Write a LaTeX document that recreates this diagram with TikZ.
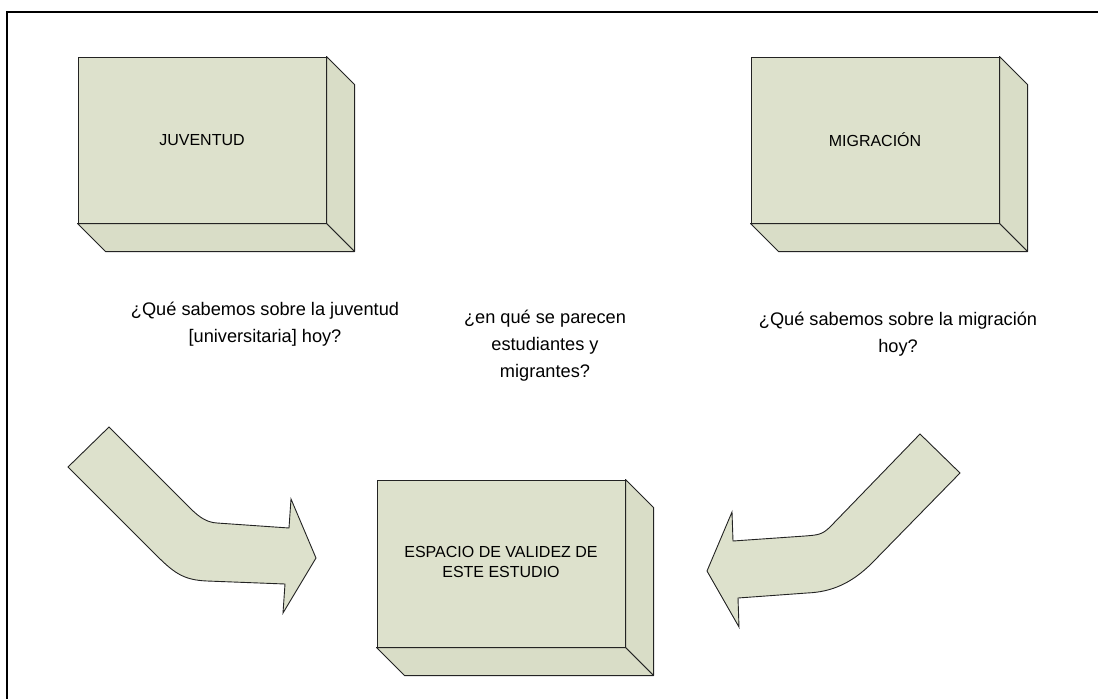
\documentclass[tikz,border=0pt]{standalone}
\usepackage{fontspec}
\setmainfont{Liberation Sans}
\definecolor{boxfill}{RGB}{221,225,204}
\definecolor{sidefill}{RGB}{217,221,199}
\definecolor{edge}{RGB}{35,35,35}
\tikzset{
  front/.style={draw=edge, fill=boxfill, line width=1pt, rectangle, minimum width=248pt, minimum height=166pt, inner sep=0pt, align=center, font=\fontsize{16}{20}\selectfont},
  face/.style={draw=edge, fill=sidefill, line width=1pt, line join=round},
  bigarrow/.style={draw=edge, fill=boxfill, line width=0.9pt, line join=miter},
  question/.style={align=center, font=\fontsize{18.2}{27}\selectfont, inner sep=0pt},
  frameline/.style={draw=black, line width=2pt}
}
\newcommand{\boxdepth}[1]{%
  \draw[face] (#1.north east) -- ++(28,28) -- ($(#1.south east)+(28,28)$) -- (#1.south east) -- cycle;
  \draw[face] (#1.south west) -- ++(28,28) -- ($(#1.south east)+(28,28)$) -- (#1.south east) -- cycle;
}
\usetikzlibrary{calc}
\begin{document}
\begin{tikzpicture}[x=1pt,y=-1pt]
\useasboundingbox (0,0) rectangle (1098,699);
% frame
\draw[frameline] (1098,12) -- (7,12) -- (7,699);

% boxes
\node[front] (juv) at (202,140) {JUVENTUD};
\node[front] (mig) at (875,140) {MIGRACIÓN};
\node[front, minimum height=167pt] (esp) at (501,563.5) {};
\boxdepth{juv}
\boxdepth{mig}
\boxdepth{esp}
\node[align=center, font=\fontsize{16}{20}\selectfont] (esplabel) at (501,562) {ESPACIO DE VALIDEZ DE\\ESTE ESTUDIO};

% questions
\node[question] (q1) at (265,324) {¿Qué sabemos sobre la juventud\\{}[universitaria] hoy?};
\node[question] (q2) at (545,346) {¿en qué se parecen\\estudiantes y\\migrantes?};
\node[question] (q3) at (898,334) {¿Qué sabemos sobre la migración\\hoy?};

% left curved arrow
\draw[bigarrow] (109,427) -- (190,508) .. controls (200,518) and (207,522.3) .. (217,523)
  -- (289,528) -- (291,499) -- (316,558) -- (283,613) -- (285,584) -- (207,581)
  .. controls (182,580) and (173,572) .. (153,552) -- (68,467) -- cycle;

% right curved arrow
\draw[bigarrow] (920,434) -- (960,473) -- (872,563) .. controls (852,583) and (832,592) .. (807,593)
  -- (738,598) -- (739,627) -- (707,571) -- (732,512) -- (733,541) -- (805,536)
  .. controls (817,535) and (822,535) .. (830,527) -- cycle;
\end{tikzpicture}
\end{document}
